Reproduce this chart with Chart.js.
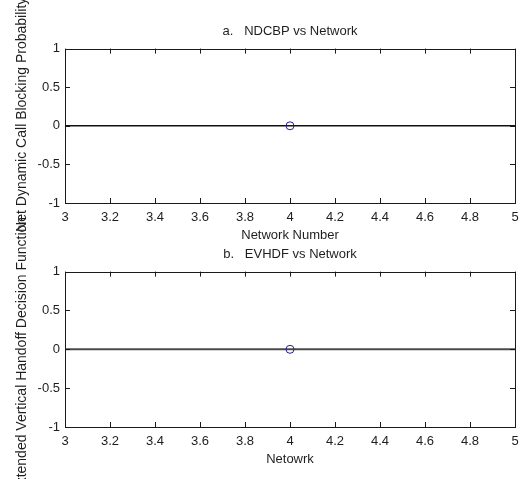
<!DOCTYPE html>
<html>
<head>
<meta charset="utf-8">
<script src="https://cdn.jsdelivr.net/npm/chart.js@4"></script>
<style>
  html, body { margin: 0; padding: 0; background: #fff; }
  #wrap { position: relative; width: 520px; height: 479px; }
  #wrap canvas { position: absolute; left: 0; top: 0; }
</style>
</head>
<body>
<div id="wrap">
  <canvas id="ndcbp-chart" width="520" height="479"></canvas>
  <canvas id="evhdf-chart" width="520" height="479"></canvas>
</div>
<script>
// data
const networks = [4];
const ndcbpValues = [0];
const evhdfValues = [0];
const zeroLineX = [3, 5];
const zeroLineY = [0, 0];
const xTicks = [3, 3.2, 3.4, 3.6, 3.8, 4, 4.2, 4.4, 4.6, 4.8, 5];
const yTicks = [-1, -0.5, 0, 0.5, 1];

const FONT = { family: "'Liberation Sans', Arial, sans-serif", size: 13 };
const TEXT = '#1e1e1e';

Chart.defaults.font.family = FONT.family;
Chart.defaults.color = TEXT;

// MATLAB-like box, inward ticks and y label
const matlabAxes = {
    id: 'matlabAxes',
    afterDatasetsDraw(chart, args, opts) {
        const { ctx, chartArea: a, scales: { x, y } } = chart;
        ctx.save();
        ctx.strokeStyle = '#1a1a1a';
        ctx.lineWidth = 1;
        ctx.beginPath();
        xTicks.forEach(v => {
            const px = Math.round(x.getPixelForValue(v)) + 0.5;
            ctx.moveTo(px, a.bottom); ctx.lineTo(px, a.bottom - 5);
            ctx.moveTo(px, a.top); ctx.lineTo(px, a.top + 5);
        });
        yTicks.forEach(v => {
            const py = Math.round(y.getPixelForValue(v)) + 0.5;
            ctx.moveTo(a.left, py); ctx.lineTo(a.left + 5, py);
            ctx.moveTo(a.right, py); ctx.lineTo(a.right - 5, py);
        });
        ctx.stroke();
        ctx.strokeRect(Math.round(a.left) + 0.5, Math.round(a.top) + 0.5,
            Math.round(a.right - a.left), Math.round(a.bottom - a.top));

        // y label, can spill past the axes like the original figure
        ctx.translate(opts.labelX, (a.top + a.bottom) / 2 + opts.labelShift);
        ctx.rotate(-Math.PI / 2);
        ctx.font = `14px ${FONT.family}`;
        ctx.fillStyle = TEXT;
        ctx.textAlign = 'center';
        ctx.textBaseline = 'middle';
        ctx.fillText(opts.label, 0, 0);
        ctx.restore();
    }
};

function makeChart(id, values, cfg) {
    const ctx = document.getElementById(id).getContext('2d');
    return new Chart(ctx, {
        type: 'scatter',
        data: {
            datasets: [
                {
                    data: networks.map((n, i) => ({ x: n, y: values[i] })),
                    showLine: false,
                    pointRadius: 4,
                    pointBorderWidth: 1,
                    pointBackgroundColor: 'rgba(0,0,0,0)',
                    borderColor: '#24248c',
                },
                {
                    data: zeroLineX.map((v, i) => ({ x: v, y: zeroLineY[i] })),
                    showLine: true,
                    pointRadius: 0,
                    borderColor: cfg.lineColor,
                    borderWidth: cfg.lineWidth,
                },
            ]
        },
        options: {
            responsive: false,
            devicePixelRatio: 1,
            animation: false,
            events: [],
            layout: { padding: cfg.padding },
            plugins: {
                legend: { display: false },
                tooltip: { enabled: false },
                title: {
                    display: true,
                    fullSize: false,
                    text: cfg.title,
                    color: TEXT,
                    font: { size: 13, weight: 'normal' },
                    padding: { top: 24, bottom: 9 },
                },
                matlabAxes: { label: cfg.yLabel, labelX: 22, labelShift: cfg.labelShift },
            },
            scales: {
                x: {
                    type: 'linear', min: 3, max: 5,
                    afterBuildTicks: s => { s.ticks = xTicks.map(v => ({ value: v })); },
                    afterFit: s => { s.height = 40; s.paddingLeft = 0; s.paddingRight = 0; },
                    grid: { display: false, drawTicks: false },
                    border: { display: false },
                    ticks: { padding: 7, font: FONT, color: TEXT, autoSkip: false, maxRotation: 0, callback: v => String(v) },
                    title: { display: true, text: cfg.xLabel, padding: 0, font: FONT, color: TEXT },
                },
                y: {
                    type: 'linear', min: -1, max: 1,
                    afterBuildTicks: s => { s.ticks = yTicks.map(v => ({ value: v })); },
                    afterFit: s => { s.width = 65; },
                    grid: { display: false, drawTicks: false },
                    border: { display: false },
                    ticks: { padding: 5, font: FONT, color: TEXT, callback: v => String(v) },
                },
            },
        },
        plugins: [matlabAxes],
    });
}

makeChart('ndcbp-chart', ndcbpValues, {
    title: 'a.   NDCBP vs Network',
    xLabel: 'Network Number',
    yLabel: 'Net Dynamic Call Blocking Probability',
    labelShift: -11,
    padding: { left: 0, right: 4, top: 0, bottom: 236 },
    lineColor: '#111',
    lineWidth: 1.5,
});

makeChart('evhdf-chart', evhdfValues, {
    title: 'b.   EVHDF vs Network',
    xLabel: 'Netowrk',
    yLabel: 'Extended Vertical Handoff Decision Function',
    labelShift: 6,
    padding: { left: 0, right: 4, top: 223, bottom: 12 },
    lineColor: '#4a4a4a',
    lineWidth: 2,
});
</script>
</body>
</html>
